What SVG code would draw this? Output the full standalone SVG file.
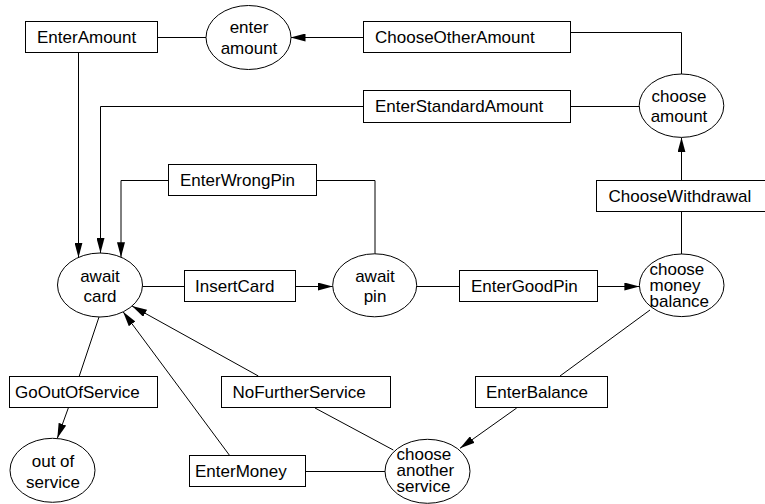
<svg xmlns="http://www.w3.org/2000/svg" width="765" height="504" viewBox="0 0 765 504">
<style>
rect.box{fill:#fff;stroke:#000;stroke-width:1}
ellipse.st{fill:#fff;stroke:#000;stroke-width:1}
text{font-family:"Liberation Sans",Arial,sans-serif;font-size:17px;fill:#000}
text.c{text-anchor:middle}
#connectors path{fill:none;stroke:#000;stroke-width:1}
path.arr{marker-end:url(#ah)}
</style>
<defs>
<marker id="ah" markerUnits="userSpaceOnUse" markerWidth="16" markerHeight="8" refX="15" refY="4" orient="auto">
<path d="M0,0 L15,4 L0,8 z" fill="#000"/>
</marker>
</defs>
<rect width="765" height="504" fill="#fff"/>
<g id="connectors">
<path class="arr" d="M78.5,53 V257.6"/>
<path class="arr" d="M363,106.5 H100.5 V253"/>
<path class="arr" d="M168,180.5 H121 V257.2"/>
<path d="M375,254 V180.5 H317"/>
<path d="M142.5,286.5 H184"/>
<path class="arr" d="M296,286.5 H332.7"/>
<path d="M417,286.5 H459"/>
<path class="arr" d="M597,286.5 H639.4"/>
<path d="M681.5,254 V212"/>
<path class="arr" d="M681.5,180 V137.4"/>
<path d="M681.5,74 V32.5 H571"/>
<path class="arr" d="M363,37.5 H290.5"/>
<path d="M206,37.5 H158"/>
<path d="M639.4,106.5 H571"/>
<path d="M99,317 L79.3,376"/>
<path class="arr" d="M68.3,408 L57.3,438.3"/>
<path d="M650,310 L560,376"/>
<path class="arr" d="M516.7,408 L460,448.3"/>
<path d="M393.3,450 L315,408"/>
<path class="arr" d="M258.3,376 L132,306"/>
<path d="M385,471.5 H306"/>
<path class="arr" d="M230,456 L123.1,311.8"/>
</g>
<g id="EnterAmount"><rect class="box" x="25.5" y="21.5" width="132" height="31"/><text x="37" y="43">EnterAmount</text></g>
<g id="enterAmountState"><ellipse class="st" cx="248.5" cy="37.5" rx="42.5" ry="32"/><text class="c" x="249" y="32.5">enter</text><text class="c" x="249" y="53.5">amount</text></g>
<g id="ChooseOtherAmount"><rect class="box" x="363.5" y="21.5" width="207" height="31"/><text x="375" y="43">ChooseOtherAmount</text></g>
<g id="EnterStandardAmount"><rect class="box" x="363.5" y="90.5" width="207" height="32"/><text x="375" y="112">EnterStandardAmount</text></g>
<g id="chooseAmountState"><ellipse class="st" cx="681.5" cy="105.7" rx="42.3" ry="31.7"/><text class="c" x="679" y="101.5">choose</text><text class="c" x="679" y="122">amount</text></g>
<g id="ChooseWithdrawal"><rect class="box" x="596.5" y="180.5" width="170" height="31"/><text x="608.5" y="202">ChooseWithdrawal</text></g>
<g id="EnterWrongPin"><rect class="box" x="168.5" y="164.5" width="148" height="31"/><text x="180" y="186">EnterWrongPin</text></g>
<g id="awaitCardState"><ellipse class="st" cx="100" cy="285" rx="42.5" ry="32"/><text class="c" x="100" y="281.5">await</text><text class="c" x="100" y="301.5">card</text></g>
<g id="InsertCard"><rect class="box" x="184.5" y="270.5" width="111" height="31"/><text x="195" y="292">InsertCard</text></g>
<g id="awaitPinState"><ellipse class="st" cx="374.7" cy="285.3" rx="42" ry="31.5"/><text class="c" x="375" y="281.5">await</text><text class="c" x="375" y="301.5">pin</text></g>
<g id="EnterGoodPin"><rect class="box" x="459.5" y="270.5" width="138" height="31"/><text x="471" y="292">EnterGoodPin</text></g>
<g id="chooseMoneyBalanceState"><ellipse class="st" cx="681.7" cy="285.3" rx="42.3" ry="31.3"/><text x="649.5" y="275">choose</text><text x="649.5" y="291">money</text><text x="649.5" y="307">balance</text></g>
<g id="GoOutOfService"><rect class="box" x="9.5" y="376.5" width="148" height="31"/><text x="15" y="398">GoOutOfService</text></g>
<g id="outOfServiceState"><ellipse class="st" cx="52.5" cy="470.3" rx="42.5" ry="32"/><text class="c" x="53" y="466.5">out of</text><text class="c" x="53" y="488">service</text></g>
<g id="NoFurtherService"><rect class="box" x="221.5" y="376.5" width="169" height="31"/><text x="232.5" y="398">NoFurtherService</text></g>
<g id="EnterBalance"><rect class="box" x="475.5" y="376.5" width="132" height="31"/><text x="486" y="398">EnterBalance</text></g>
<g id="EnterMoney"><rect class="box" x="189.5" y="455.5" width="116" height="31"/><text x="195" y="477">EnterMoney</text></g>
<g id="chooseAnotherServiceState"><ellipse class="st" cx="427.5" cy="471.3" rx="42.5" ry="32"/><text x="396.5" y="460">choose</text><text x="396.5" y="475.7">another</text><text x="396.5" y="491.7">service</text></g>
</svg>
